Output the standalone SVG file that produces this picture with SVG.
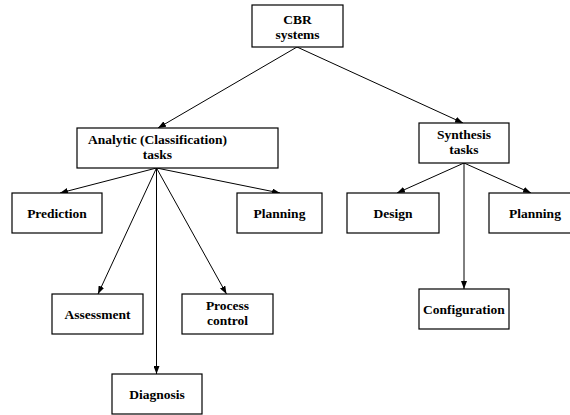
<svg xmlns="http://www.w3.org/2000/svg" width="570" height="415" viewBox="0 0 570 415">
  <style>
    .box rect { fill: #fff; stroke: #000; stroke-width: 1.2; }
    .box text { font-family: "Liberation Serif", "Times New Roman", serif; font-weight: bold; font-size: 13.5px; text-anchor: middle; fill: #000; }
    .edge { stroke: #000; stroke-width: 1; fill: none; marker-end: url(#arrow); }
  </style>
  <defs>
    <marker id="arrow" viewBox="0 0 8 6" refX="8" refY="3" markerWidth="8" markerHeight="6" markerUnits="userSpaceOnUse" orient="auto">
      <path d="M0,0 L8,3 L0,6 Z" fill="#000"/>
    </marker>
  </defs>
  <rect width="570" height="415" fill="#fff"/>

  <g id="connectors">
    <line class="edge" x1="297" y1="47" x2="158" y2="128"/>
    <line class="edge" x1="297" y1="47" x2="463" y2="123"/>
    <line class="edge" x1="156.5" y1="168" x2="60" y2="193"/>
    <line class="edge" x1="156.5" y1="168" x2="280" y2="193"/>
    <line class="edge" x1="156.5" y1="168" x2="98" y2="294"/>
    <line class="edge" x1="156.5" y1="168" x2="226.5" y2="294"/>
    <line class="edge" x1="156.5" y1="168" x2="156.5" y2="374"/>
    <line class="edge" x1="464" y1="163" x2="397" y2="193"/>
    <line class="edge" x1="464" y1="163" x2="531" y2="193"/>
    <line class="edge" x1="464" y1="163" x2="464" y2="289"/>
  </g>

  <g id="cbr" class="box">
    <rect x="252" y="5" width="91" height="42"/>
    <text x="297.5" y="23.5">CBR</text>
    <text x="297.5" y="38.5">systems</text>
  </g>
  <g id="analytic" class="box">
    <rect x="77" y="128" width="201" height="40"/>
    <text x="157.5" y="143.5">Analytic (Classification)</text>
    <text x="157.5" y="158.5">tasks</text>
  </g>
  <g id="synthesis" class="box">
    <rect x="419" y="123" width="90" height="40"/>
    <text x="464" y="138.5">Synthesis</text>
    <text x="464" y="153.5">tasks</text>
  </g>
  <g id="prediction" class="box">
    <rect x="12" y="193" width="90" height="40"/>
    <text x="57" y="217.5">Prediction</text>
  </g>
  <g id="planning-analytic" class="box">
    <rect x="237" y="193" width="85" height="40"/>
    <text x="279.5" y="217.5">Planning</text>
  </g>
  <g id="assessment" class="box">
    <rect x="52" y="294" width="91" height="40"/>
    <text x="97.5" y="318.5">Assessment</text>
  </g>
  <g id="process-control" class="box">
    <rect x="182" y="294" width="91" height="40"/>
    <text x="227.5" y="310">Process</text>
    <text x="227.5" y="325">control</text>
  </g>
  <g id="diagnosis" class="box">
    <rect x="112" y="374" width="90" height="40"/>
    <text x="157" y="398.5">Diagnosis</text>
  </g>
  <g id="design" class="box">
    <rect x="347" y="193" width="92" height="40"/>
    <text x="393" y="217.5">Design</text>
  </g>
  <g id="planning-synthesis" class="box">
    <rect x="489" y="193" width="92" height="40"/>
    <text x="535" y="217.5">Planning</text>
  </g>
  <g id="configuration" class="box">
    <rect x="419" y="289" width="90" height="40"/>
    <text x="464" y="313.5">Configuration</text>
  </g>
</svg>
